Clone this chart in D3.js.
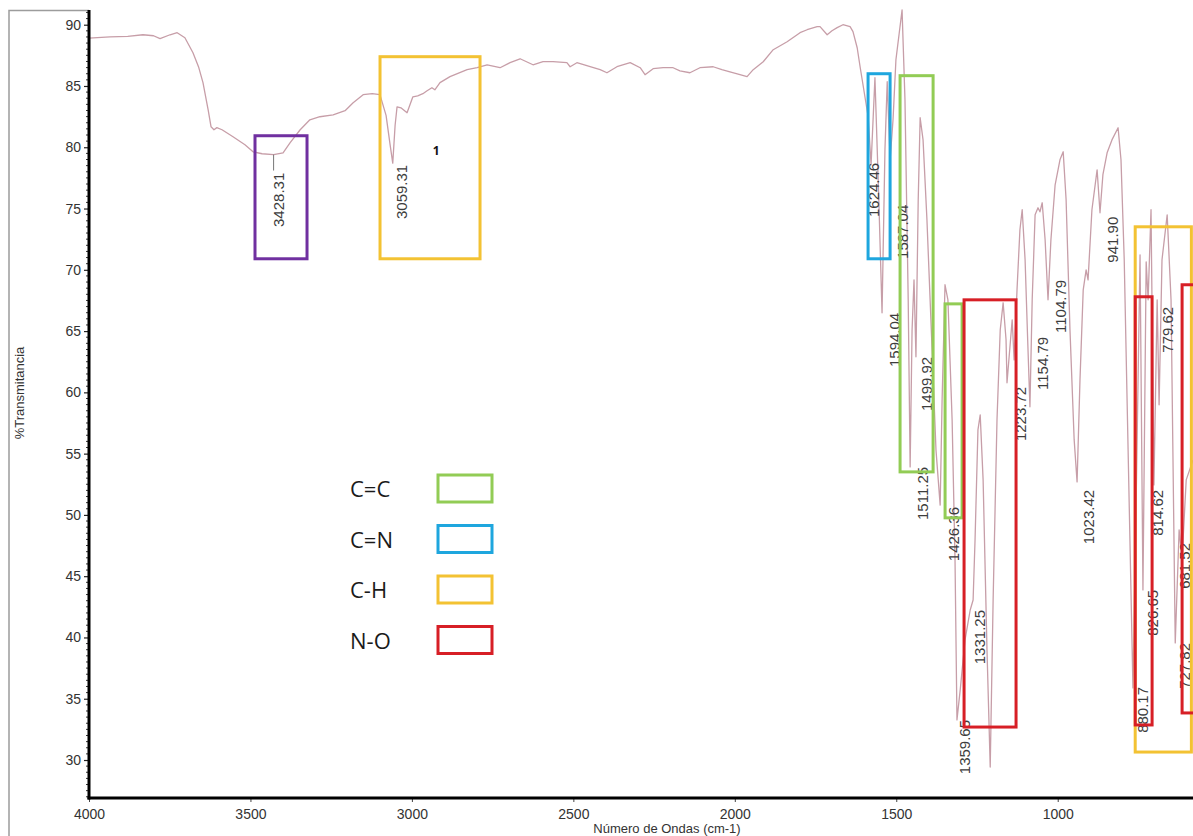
<!DOCTYPE html>
<html>
<head>
<meta charset="utf-8">
<script src="https://cdn.jsdelivr.net/npm/d3@7"></script>
<style>
  html, body { margin: 0; padding: 0; background: #ffffff; }
  svg { display: block; }
</style>
</head>
<body>
<svg id="chart" width="1193" height="836"></svg>
<script>
// FT-IR spectrum: wavenumber (cm-1) and % transmittance
const wavenumbers = [
  4000, 3935, 3880, 3833, 3800, 3780, 3749, 3727, 3703, 3678, 3660, 3647, 3631, 3622, 3613, 3604, 3588,
  3554, 3517, 3492, 3464, 3428.31, 3399, 3377, 3346, 3316, 3285, 3244, 3207, 3182, 3151, 3123, 3099,
  3080, 3068, 3059.31, 3052, 3046, 3034, 3015, 2997, 2982, 2966, 2953, 2938, 2929, 2913, 2882, 2829,
  2798, 2767, 2727, 2696, 2665, 2625, 2594, 2563, 2520, 2510, 2489, 2448, 2417, 2396, 2365, 2324, 2293,
  2278, 2253, 2222, 2191, 2170, 2139, 2108, 2067, 2040, 2015, 1984, 1962, 1943, 1912, 1881, 1838, 1798,
  1776, 1745, 1736, 1714, 1699, 1683, 1665, 1643, 1634, 1621, 1612, 1603, 1587, 1578, 1566, 1554, 1544,
  1535, 1528, 1519, 1510, 1501, 1482, 1473, 1463, 1457, 1451, 1445, 1439, 1432, 1426, 1417, 1405, 1389,
  1377, 1364, 1358, 1349, 1340, 1327, 1318, 1312, 1302, 1287, 1271, 1262, 1256, 1247, 1240, 1231, 1219,
  1209, 1200, 1188, 1178, 1169, 1160, 1157, 1141, 1135, 1126, 1117, 1110, 1101, 1093, 1086, 1079, 1070,
  1061, 1055, 1048, 1039, 1030, 1021, 1008, 993, 983, 974, 962, 949, 940, 931, 921, 912, 906, 894, 878,
  869, 860, 847, 832, 813, 804, 794, 782, 767, 757, 745, 736, 726, 720, 711, 702, 692, 686, 677, 661,
  649, 636, 624, 615, 602, 581
];
const transmittance = [
  88.9, 89.0, 89.05, 89.18, 89.1, 88.86, 89.18, 89.35, 88.94, 87.71, 86.5, 85.27, 83.06, 81.67, 81.43, 81.6, 81.43,
  80.86, 80.2, 79.63, 79.47, 79.4, 79.55, 80.37, 81.43, 82.24, 82.49, 82.65, 82.98, 83.63, 84.29, 84.37, 84.29,
  82.6, 80.3, 78.7, 81.8, 83.3, 83.22, 82.82, 84.12, 84.2, 84.37, 84.61, 84.86, 84.69, 85.27, 85.76, 86.33,
  86.49, 86.73, 86.49, 86.9, 87.22, 86.73, 86.98, 86.98, 86.9, 86.57, 86.9, 86.57, 86.33, 86.08, 86.57, 86.9, 86.49,
  85.92, 86.41, 86.49, 86.49, 86.24, 86.08, 86.49, 86.57, 86.33, 86.16, 85.92, 85.76, 86.33, 86.98, 87.96, 88.61, 89.35,
  89.59, 89.84, 89.84, 89.18, 89.51, 89.76, 90.0, 89.84, 89.43, 88.12, 86.57, 85.1, 82.49, 78.57, 85.67, 75.71, 66.49,
  79.8, 85.35, 78.98, 82.24, 87.14, 91.2, 83.88, 67.55, 53.92, 65.1, 69.18, 62.9, 75.71, 82.41, 80.6, 74.1, 63.47,
  55.31, 50.8, 59.39, 68.78, 67.55, 57.76, 46.33, 33.27, 35.7, 39.8, 42.24, 43.06, 47.96, 56.94, 58.16, 52.86, 39.0,
  29.43, 43.06, 57.76, 65.1, 67.31, 64.29, 60.78, 65.92, 62.65, 68.37, 73.27, 74.9, 70.82, 64.29, 58.82, 67.55, 74.49,
  75.06, 74.73, 75.47, 72.45, 67.55, 72.45, 76.94, 78.98, 79.63, 75.71, 65.1, 56.12, 52.69, 61.02, 68.37, 70.0, 69.18, 74.9, 78.16,
  74.65, 77.76, 79.55, 80.6, 81.59, 78.98, 70.82, 55.31, 35.88, 51.22, 71.22, 43.88, 70.65, 67.55, 74.9, 52.45, 67.55, 58.98, 70.82, 74.49,
  67.55, 39.55, 48.78, 46.33, 52.86, 54.49
];

// Axis ticks
const xTickValues = [4000, 3500, 3000, 2500, 2000, 1500, 1000];
const yTickValues = [30, 35, 40, 45, 50, 55, 60, 65, 70, 75, 80, 85, 90];

// Peak annotations: text, wavenumber where the label is written, %T at the label's upper end
const peakLabels = ["3428.31", "3059.31", "1624.46", "1587.04", "1594.04", "1499.92", "1511.25", "1426.36",
  "1359.65", "1331.25", "1223.72", "1154.79", "1104.79", "1023.42", "941.90", "880.17", "826.65", "814.62",
  "779.62", "727.82", "681.52"];
const peakLabelWn = [3414.6, 3033.7, 1570.3, 1482, 1506.8, 1407.6, 1420, 1324, 1290, 1243.5, 1116.5, 1048.4,
  992.6, 905.9, 831.6, 738.7, 707.7, 692.2, 661.2, 608.5, 606];
const peakLabelTop = [77.92, 78.57, 78.73, 75.31, 66.49, 62.9, 53.92, 50.65, 33.27, 42.24, 60.45, 64.53, 69.18,
  52.04, 74.33, 35.96, 43.88, 52.04, 66.98, 39.55, 47.71];

// Functional-group bands (boxes): group, wavenumber span, %T span
const bandGroup = ["O-H", "C-H", "C=N", "C=C", "C=C", "N-O", "C-H", "N-O", "N-O"];
const bandWnHigh = [3485.9, 3098.7, 1587.3, 1488.2, 1348.8, 1290, 760, 760, 614.8];
const bandWnLow = [3324.8, 2789, 1519.1, 1385.9, 1296.1, 1129, 586, 707.7, 559];
const bandTHigh = [80.94, 87.39, 86.0, 85.84, 67.22, 67.55, 73.51, 67.8, 68.78];
const bandTLow = [70.9, 70.9, 70.9, 53.51, 49.76, 32.69, 30.65, 32.86, 33.84];

// Legend entries
const legendGroups = ["C=C", "C=N", "C-H", "N-O"];
const groupColor = {
  "O-H": "#7030a0",
  "C=C": "#92cc55",
  "C=N": "#1ea6de",
  "C-H": "#f3c233",
  "N-O": "#d71f26"
};

const svg = d3.select("#chart");
const W = 1193, H = 836;

const x = d3.scaleLinear().domain([4000, 581]).range([89, W]);
const y = d3.scaleLinear().domain([26.9, 91.2]).range([798, 10]);

const font = "'Liberation Sans', Arial, sans-serif";

// outer frame
svg.append("path")
  .attr("d", `M9,${H} V10.5 H89`)
  .attr("fill", "none")
  .attr("stroke", "#9c9c9c")
  .attr("stroke-width", 1.5);

svg.append("clipPath").attr("id", "plotClip")
  .append("rect").attr("x", 89).attr("y", 0).attr("width", W - 89).attr("height", 798);

// spectrum
const points = wavenumbers.map((w, i) => [w, transmittance[i]]);
svg.append("path")
  .datum(points)
  .attr("clip-path", "url(#plotClip)")
  .attr("fill", "none")
  .attr("stroke", "#c79ea8")
  .attr("stroke-width", 1.3)
  .attr("stroke-linejoin", "round")
  .attr("d", d3.line().x(d => x(d[0])).y(d => y(d[1])));

// marker under the broad O-H band
const ohIndex = wavenumbers.indexOf(3428.31);
svg.append("line")
  .attr("x1", x(3428.31)).attr("x2", x(3428.31))
  .attr("y1", y(transmittance[ohIndex])).attr("y2", y(transmittance[ohIndex] - 1.3))
  .attr("stroke", "#777").attr("stroke-width", 1);

// peak labels
svg.append("g").selectAll("text")
  .data(peakLabels)
  .join("text")
  .attr("transform", (d, i) => `translate(${x(peakLabelWn[i])},${y(peakLabelTop[i])}) rotate(-90)`)
  .attr("text-anchor", "end")
  .attr("dominant-baseline", "central")
  .attr("font-family", font)
  .attr("font-size", 15)
  .attr("fill", "#3d3d3d")
  .text(d => d);

// band boxes
svg.append("g").attr("clip-path", "url(#plotClip)").selectAll("rect")
  .data(bandGroup)
  .join("rect")
  .attr("x", (d, i) => x(bandWnHigh[i]))
  .attr("y", (d, i) => y(bandTHigh[i]))
  .attr("width", (d, i) => x(bandWnLow[i]) - x(bandWnHigh[i]))
  .attr("height", (d, i) => y(bandTLow[i]) - y(bandTHigh[i]))
  .attr("fill", "none")
  .attr("stroke", d => groupColor[d])
  .attr("stroke-width", 3);

// band number tag
svg.append("text")
  .attr("x", x(2925)).attr("y", y(79.7))
  .attr("text-anchor", "middle")
  .attr("dominant-baseline", "central")
  .attr("font-family", "'Open Sans', sans-serif")
  .attr("font-weight", 700)
  .attr("font-size", 12)
  .attr("fill", "#111")
  .text("1");

// y axis
const yAxis = svg.append("g")
  .attr("transform", "translate(89,0)")
  .call(d3.axisLeft(y).tickValues(yTickValues).tickSize(5).tickPadding(3));
yAxis.select(".domain").remove();
yAxis.selectAll(".tick line").attr("stroke", "#222").attr("stroke-width", 1.2);
yAxis.selectAll(".tick text")
  .attr("font-family", font).attr("font-size", 14).attr("fill", "#333");

// minor y ticks
const minorY = d3.range(27, 91.01, 0.5).filter(v => v % 5 !== 0);
svg.append("g").selectAll("line")
  .data(minorY)
  .join("line")
  .attr("x1", 86).attr("x2", 89)
  .attr("y1", d => y(d)).attr("y2", d => y(d))
  .attr("stroke", "#333").attr("stroke-width", 1);

// x axis
const xAxis = svg.append("g")
  .attr("transform", "translate(0,798)")
  .call(d3.axisBottom(x).tickValues(xTickValues).tickFormat(d3.format("d")).tickSize(4).tickPadding(7));
xAxis.select(".domain").remove();
xAxis.selectAll(".tick line").attr("stroke", "#444").attr("stroke-width", 1);
xAxis.selectAll(".tick text")
  .attr("font-family", font).attr("font-size", 14).attr("fill", "#333");

// axis lines
svg.append("line").attr("x1", 89).attr("x2", 89).attr("y1", 10).attr("y2", 799.5)
  .attr("stroke", "#000").attr("stroke-width", 3);
svg.append("line").attr("x1", 87.5).attr("x2", W).attr("y1", 798).attr("y2", 798)
  .attr("stroke", "#000").attr("stroke-width", 3);

// axis titles
svg.append("text")
  .attr("x", 667).attr("y", 833)
  .attr("text-anchor", "middle")
  .attr("font-family", font).attr("font-size", 13).attr("fill", "#333")
  .text("Número de Ondas (cm-1)");
svg.append("text")
  .attr("transform", "translate(19,393) rotate(-90)")
  .attr("text-anchor", "middle")
  .attr("dominant-baseline", "central")
  .attr("font-family", font).attr("font-size", 13).attr("fill", "#333")
  .text("%Transmitancia");

// legend
const legend = svg.append("g").attr("transform", "translate(350,488)");
const rowGap = 50.5;
legendGroups.forEach((g, i) => {
  const row = legend.append("g").attr("transform", `translate(0,${i * rowGap})`);
  row.append("text")
    .attr("x", 0).attr("y", 0)
    .attr("dominant-baseline", "central")
    .attr("font-family", "'Open Sans', sans-serif")
    .attr("font-size", 22)
    .attr("fill", "#1a1a1a")
    .text(g);
  row.append("rect")
    .attr("x", 88).attr("y", -13)
    .attr("width", 54).attr("height", 27)
    .attr("fill", "none")
    .attr("stroke", groupColor[g])
    .attr("stroke-width", 3);
});
</script>
</body>
</html>
